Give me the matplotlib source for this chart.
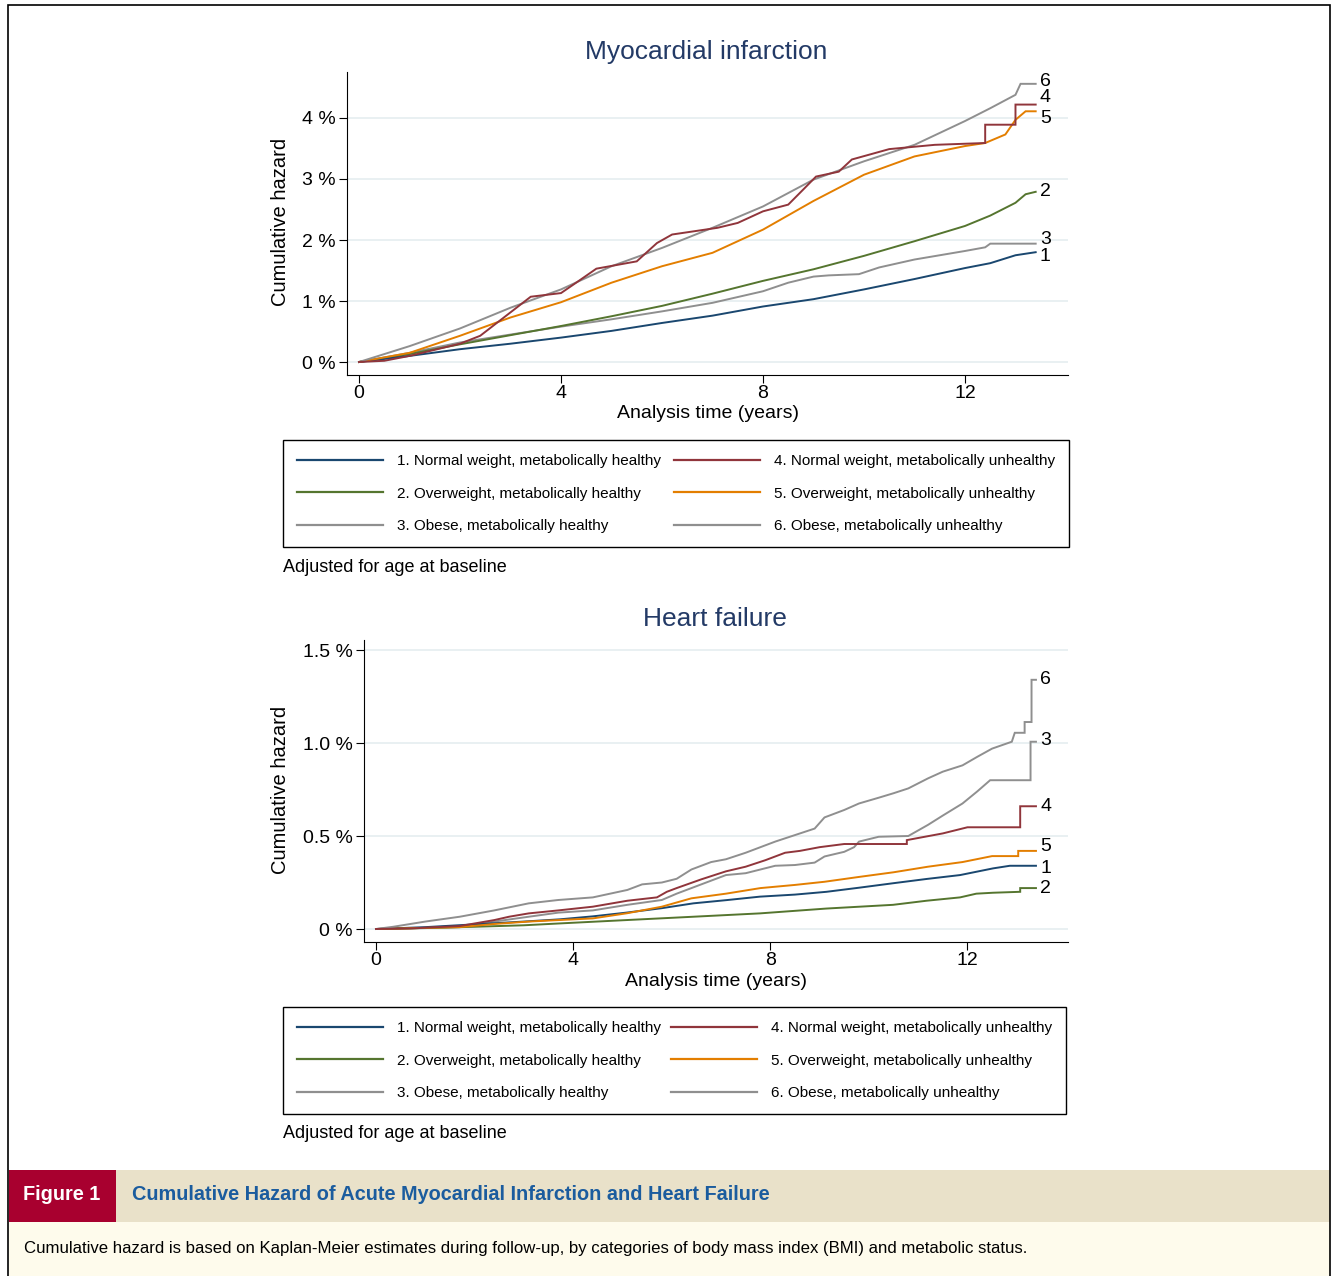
import matplotlib.pyplot as plt
from matplotlib.patches import Rectangle
from matplotlib.lines import Line2D

plt.rcParams['font.family'] = ['Liberation Sans', 'DejaVu Sans']

W, H = 1334, 1276

groups = ['1. Normal weight, metabolically healthy',
          '2. Overweight, metabolically healthy',
          '3. Obese, metabolically healthy',
          '4. Normal weight, metabolically unhealthy',
          '5. Overweight, metabolically unhealthy',
          '6. Obese, metabolically unhealthy']
colors = ['#1a476f', '#55752f', '#8f8f8f', '#90353b', '#e37e00', '#8f8f8f']

# Myocardial infarction: time (years) and cumulative hazard (%)
mi_t1 = [0, 1, 2, 3, 4, 5, 6, 7, 8, 9, 10, 11, 12, 12.5, 13, 13.4]
mi_h1 = [0, 0.10, 0.21, 0.30, 0.40, 0.51, 0.64, 0.76, 0.91, 1.03, 1.19, 1.36, 1.54, 1.62, 1.75, 1.80]
mi_t2 = [0, 1, 2, 3, 4, 5, 6, 7, 8, 9, 10, 11, 12, 12.5, 13, 13.2, 13.4]
mi_h2 = [0, 0.13, 0.29, 0.44, 0.59, 0.75, 0.92, 1.12, 1.33, 1.52, 1.74, 1.98, 2.23, 2.40, 2.61, 2.75, 2.79]
mi_t3 = [0, 1, 2, 3, 4, 5, 6, 7, 8, 8.5, 9, 9.3, 9.9, 10.3, 11, 11.5, 12, 12.4, 12.5, 13.4]
mi_h3 = [0, 0.15, 0.32, 0.45, 0.58, 0.70, 0.83, 0.97, 1.16, 1.30, 1.40, 1.42, 1.44, 1.55, 1.68, 1.75, 1.82, 1.88, 1.94, 1.94]
mi_t4 = [0, 0.5, 1, 1.5, 2, 2.4, 2.9, 3.4, 4, 4.3, 4.7, 5.5, 5.9, 6.2, 7.1, 7.5, 8, 8.5, 8.8, 9.05,
         9.5, 9.76, 10.5, 11.4, 12.4, 12.4, 13.0, 13.0, 13.4]
mi_h4 = [0, 0.02, 0.10, 0.20, 0.30, 0.43, 0.75, 1.07, 1.13, 1.30, 1.53, 1.65, 1.95, 2.09, 2.20, 2.28, 2.47, 2.58, 2.83, 3.04,
         3.12, 3.32, 3.49, 3.56, 3.59, 3.89, 3.89, 4.22, 4.22]
mi_t5 = [0, 1, 2, 3, 4, 5, 6, 7, 8, 9, 10, 11, 12, 12.4, 12.8, 13.0, 13.2, 13.4]
mi_h5 = [0, 0.15, 0.43, 0.73, 0.98, 1.30, 1.57, 1.79, 2.17, 2.64, 3.07, 3.37, 3.54, 3.59, 3.73, 3.97, 4.11, 4.11]
mi_t6 = [0, 1, 2, 3, 4, 5, 6, 7, 8, 9, 10, 11, 12, 12.5, 13, 13.1, 13.4]
mi_h6 = [0, 0.26, 0.55, 0.89, 1.19, 1.57, 1.87, 2.20, 2.55, 2.99, 3.29, 3.56, 3.95, 4.16, 4.38, 4.56, 4.56]

# Heart failure
hf_t1 = [0, 1, 2, 3, 3.73, 4.4, 5.08, 5.8, 6.44, 7.1, 7.79, 8.5, 9.14, 9.8, 10.49, 11.17, 11.85, 12.52, 12.86, 13.39]
hf_h1 = [0, 0.01, 0.025, 0.04, 0.052, 0.068, 0.088, 0.112, 0.138, 0.155, 0.174, 0.185, 0.20, 0.222, 0.246, 0.269, 0.29, 0.326, 0.34, 0.34]
hf_t2 = [0, 1, 2, 3, 3.73, 5.08, 6.44, 7.79, 9.14, 10.49, 11.17, 11.85, 12.18, 12.52, 13.07, 13.07, 13.39]
hf_h2 = [0, 0.005, 0.012, 0.02, 0.03, 0.048, 0.066, 0.084, 0.11, 0.13, 0.152, 0.17, 0.19, 0.195, 0.20, 0.22, 0.22]
hf_t3 = [0, 1.7, 2.4, 3.1, 3.7, 4.4, 5.1, 5.8, 6.1, 6.4, 6.8, 7.1, 7.5, 7.8, 8.1, 8.5, 8.9, 9.1, 9.5, 9.7, 9.8,
         10.2, 10.8, 11.2, 11.5, 11.9, 12.2, 12.46, 13.28, 13.28, 13.39]
hf_h3 = [0, 0.01, 0.04, 0.066, 0.088, 0.10, 0.13, 0.156, 0.19, 0.22, 0.26, 0.29, 0.30, 0.32, 0.34, 0.344, 0.357, 0.39, 0.415, 0.44, 0.47,
         0.496, 0.50, 0.56, 0.61, 0.675, 0.74, 0.80, 0.80, 1.007, 1.007]
hf_t4 = [0, 0.7, 1.7, 2.4, 2.7, 3.1, 3.7, 4.4, 5.1, 5.7, 5.9, 6.1, 6.6, 7.1, 7.5, 7.9, 8.3, 8.6, 9.0, 9.5,
         10.77, 10.77, 11.5, 12.0, 13.07, 13.07, 13.39]
hf_h4 = [0, 0.003, 0.016, 0.048, 0.066, 0.084, 0.10, 0.12, 0.152, 0.17, 0.20, 0.22, 0.267, 0.31, 0.335, 0.37, 0.41, 0.42, 0.44, 0.457,
         0.457, 0.478, 0.514, 0.547, 0.547, 0.66, 0.66]
hf_t5 = [0, 1.7, 2.4, 3.1, 3.7, 4.4, 5.1, 5.8, 6.4, 7.1, 7.8, 8.5, 9.1, 9.8, 10.5, 11.2, 11.9, 12.5, 13.03, 13.03, 13.39]
hf_h5 = [0, 0.01, 0.027, 0.04, 0.048, 0.057, 0.085, 0.12, 0.165, 0.19, 0.22, 0.237, 0.254, 0.28, 0.305, 0.335, 0.36, 0.392, 0.392, 0.42, 0.42]
hf_t6 = [0, 0.35, 1.0, 1.7, 2.4, 3.1, 3.7, 4.4, 5.1, 5.4, 5.8, 6.1, 6.4, 6.8, 7.1, 7.5, 7.8, 8.1, 8.5, 8.9, 9.1, 9.5, 9.8,
         10.2, 10.5, 10.8, 11.2, 11.5, 11.9, 12.2, 12.5, 12.9, 12.96, 13.16, 13.16, 13.3, 13.3, 13.39]
hf_h6 = [0, 0.012, 0.04, 0.066, 0.10, 0.138, 0.156, 0.17, 0.21, 0.24, 0.25, 0.27, 0.32, 0.36, 0.375, 0.41, 0.44, 0.47, 0.505, 0.54, 0.60, 0.64, 0.675,
         0.706, 0.73, 0.756, 0.81, 0.846, 0.88, 0.926, 0.97, 1.007, 1.055, 1.055, 1.113, 1.113, 1.34, 1.34]

mi_series = [(mi_t1, mi_h1), (mi_t2, mi_h2), (mi_t3, mi_h3), (mi_t4, mi_h4), (mi_t5, mi_h5), (mi_t6, mi_h6)]
hf_series = [(hf_t1, hf_h1), (hf_t2, hf_h2), (hf_t3, hf_h3), (hf_t4, hf_h4), (hf_t5, hf_h5), (hf_t6, hf_h6)]

x_ticks = [0, 4, 8, 12]
mi_yticks = [0, 1, 2, 3, 4]
mi_ylabels = ['0 %', '1 %', '2 %', '3 %', '4 %']
hf_yticks = [0, 0.5, 1.0, 1.5]
hf_ylabels = ['0 %', '0.5 %', '1.0 %', '1.5 %']

# draw order: back to front
draw_order = [2, 1, 0, 4, 5, 3]

# label nudges (points) for the end-of-line numbers
mi_nudge = [-3, 0, 3, 5, -5, 2]
hf_nudge = [-2, 0, 1, 0, 3, 0]


def px(x0, y0, x1, y1):
    # pixel box (top-left origin) -> figure fraction rect
    return [x0 / W, 1 - y1 / H, (x1 - x0) / W, (y1 - y0) / H]


def panel(ax, series, yticks, ylabels, xlim, ylim, nudge, title, title_xy, xlab_xy, ylab_xy, leg_box):
    for i in draw_order:
        t, h = series[i]
        ax.plot(t, h, color=colors[i], lw=1.4, solid_joinstyle='miter', zorder=3)
    for i in range(6):
        t, h = series[i]
        ax.annotate(str(i + 1), xy=(t[-1], h[-1]), xytext=(3, nudge[i]),
                    textcoords='offset points', ha='left', va='center', fontsize=14)
    ax.set_xlim(*xlim)
    ax.set_ylim(*ylim)
    ax.set_xticks(x_ticks)
    ax.set_yticks(yticks)
    ax.set_yticklabels(ylabels)
    ax.tick_params(direction='out', length=6, width=0.8, labelsize=14, pad=2)
    ax.tick_params(axis='x', pad=1)
    for s in ['top', 'right']:
        ax.spines[s].set_visible(False)
    for s in ['left', 'bottom']:
        ax.spines[s].set_linewidth(0.8)
    ax.grid(axis='y', color='#e5eef0', lw=1.2, zorder=0)
    ax.set_axisbelow(True)

    fig.text(title_xy[0] / W, 1 - title_xy[1] / H, title, fontsize=19, color='#233a66',
             ha='center', va='center')
    fig.text(xlab_xy[0] / W, 1 - xlab_xy[1] / H, 'Analysis time (years)', fontsize=14,
             ha='center', va='center')
    fig.text(ylab_xy[0] / W, 1 - ylab_xy[1] / H, 'Cumulative hazard', fontsize=14.5,
             ha='center', va='center', rotation=90)

    handles = [Line2D([], [], color=c, lw=1.6) for c in colors]
    x0, y0, x1, y1 = leg_box
    leg = ax.legend(handles, groups, ncol=2, mode='expand', loc='upper left',
                    bbox_to_anchor=(x0 / W, 1 - y1 / H, (x1 - x0) / W, (y1 - y0) / H),
                    bbox_transform=fig.transFigure, fontsize=11, handlelength=5.6,
                    handletextpad=0.9, borderpad=0.94, labelspacing=1.2,
                    borderaxespad=0, fancybox=False, framealpha=1, edgecolor='black')
    leg.get_frame().set_linewidth(1.0)
    fig.text((x0) / W, 1 - (y1 + 19) / H, 'Adjusted for age at baseline', fontsize=13,
             ha='left', va='center')


fig = plt.figure(figsize=(W / 100, H / 100), dpi=100)

ax1 = fig.add_axes(px(347, 72, 1068, 375))
panel(ax1, mi_series, mi_yticks, mi_ylabels, (-0.238, 14.04), (-0.213, 4.754), mi_nudge,
      'Myocardial infarction', (706, 52), (708, 414), (280, 222), (283, 440, 1069, 548))

ax2 = fig.add_axes(px(364, 640, 1068, 942))
panel(ax2, hf_series, hf_yticks, hf_ylabels, (-0.243, 14.04), (-0.0699, 1.554), hf_nudge,
      'Heart failure', (715, 619), (716, 981), (280, 790), (283, 1007, 1066, 1114))

# caption band
fig.patches.append(Rectangle((9 / W, 1 - 1222 / H), (1330 - 9) / W, 52 / H, transform=fig.transFigure,
                             facecolor='#e9e1c9', edgecolor='none', zorder=0))
fig.patches.append(Rectangle((9 / W, 1 - 1222 / H), (116 - 9) / W, 52 / H, transform=fig.transFigure,
                             facecolor='#a8002f', edgecolor='none', zorder=1))
fig.patches.append(Rectangle((9 / W, 0), (1330 - 9) / W, 54 / H, transform=fig.transFigure,
                             facecolor='#fefbec', edgecolor='none', zorder=0))
fig.patches.append(Rectangle((8 / W, -0.01), (1330 - 8) / W, 1.01 - 5 / H, transform=fig.transFigure,
                             facecolor='none', edgecolor='black', lw=1.2, zorder=2))

fig.text(23 / W, 1 - 1195 / H, 'Figure 1', color='white', fontsize=14.3, fontweight='bold',
         ha='left', va='center')
fig.text(132 / W, 1 - 1195 / H, 'Cumulative Hazard of Acute Myocardial Infarction and Heart Failure',
         color='#1b5c9e', fontsize=14.3, fontweight='bold', ha='left', va='center')
fig.text(24 / W, 1 - 1248 / H,
         'Cumulative hazard is based on Kaplan-Meier estimates during follow-up, by categories of body mass index (BMI) and metabolic status.',
         fontsize=12.1, ha='left', va='center')

fig.savefig('out.png', dpi=100)
